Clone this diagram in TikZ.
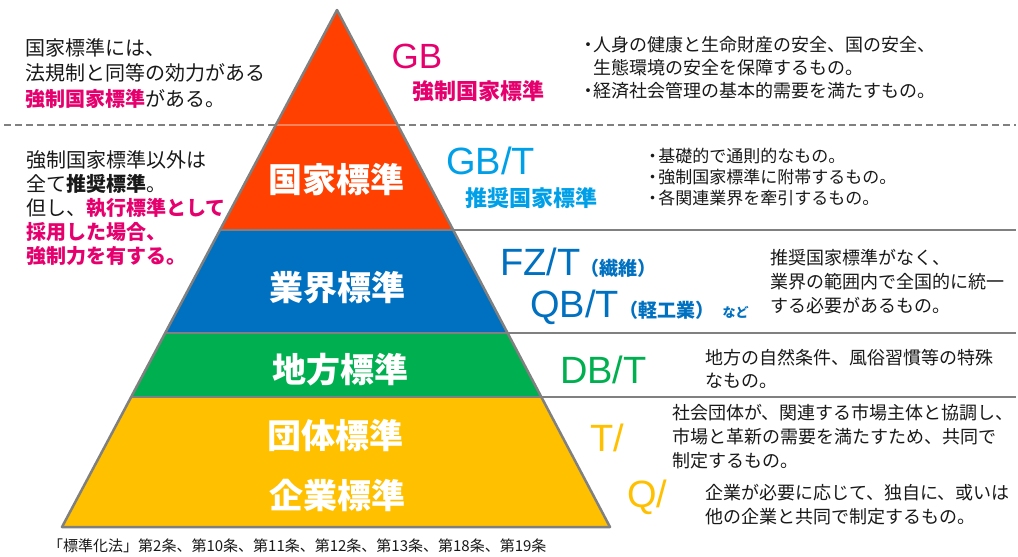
\documentclass[tikz,border=0pt]{standalone}
\usepackage{fontspec}
\setmainfont{Noto Sans CJK JP}
\newfontfamily\latinfont{Liberation Sans}
\usetikzlibrary{positioning}
\definecolor{pyred}{RGB}{255,64,0}
\definecolor{pyblue}{RGB}{0,112,192}
\definecolor{pygreen}{RGB}{0,176,80}
\definecolor{pyyellow}{RGB}{255,192,0}
\definecolor{gbpink}{RGB}{230,0,110}
\definecolor{gbtblue}{RGB}{0,160,233}
\definecolor{edgegray}{RGB}{128,128,128}
\definecolor{ink}{RGB}{25,25,25}
\newcommand\dotmark{\makebox[0.65em][c]{・}}

\tikzset{
  rule/.style={draw=edgegray, line width=2.5pt},
  level/.style={text=white, inner sep=0pt, font=\fontsize{34}{34}\selectfont\bfseries},
  code/.style={inner sep=0pt, anchor=west, font=\fontsize{38}{38}\selectfont\latinfont},
  codesub/.style={inner sep=0pt, anchor=base west, font=\fontsize{19}{19}\selectfont\bfseries},
  kind/.style={inner sep=0pt, font=\fontsize{22}{22}\selectfont\bfseries},
  note/.style={inner sep=0pt, anchor=north west, align=left, text=ink}
}

\begin{document}
\begin{tikzpicture}[x=1pt, y=-1pt]
\useasboundingbox[fill=white] (0,0) rectangle (1018,557);

% pyramid bands
\fill[pyred] (337,10) -- (453,230) -- (220,230) -- cycle;
\fill[pyblue] (220,230) -- (453,230) -- (508,333) -- (165,333) -- cycle;
\fill[pygreen] (165,333) -- (508,333) -- (541,397) -- (131,397) -- cycle;
\fill[pyyellow] (131,397) -- (541,397) -- (610,527) -- (62,527) -- cycle;

% dashed split of the national level
\draw[edgegray, dashed, dash pattern=on 7pt off 4pt, line width=1.5pt] (4,125) -- (276,125);
\draw[edgegray, dashed, dash pattern=on 7pt off 4pt, line width=1.5pt] (398,125) -- (1016,125);
\draw[white, opacity=0.35, line width=1.2pt] (276,125) -- (398,125);

% band rules
\draw[rule] (220,230) -- (1016,230);
\draw[rule] (165,333) -- (1016,333);
\draw[rule] (131,397) -- (1016,397);
\draw[rule, line join=round] (337,10) -- (610,527) -- (62,527) -- cycle;

% levels
\node[level] (national) at (336,180) {国家標準};
\node[level] (industry) at (337,288) {業界標準};
\node[level] (local) at (340,370) {地方標準};
\node[level] (group) at (335,436) {団体標準};
\node[level] (enterprise) at (337,495) {企業標準};

% codes
\node[inner sep=0pt, text=gbpink, font=\fontsize{35}{35}\selectfont\latinfont] (gb) at (417,56) {GB};
\node[kind, text=gbpink] (gbkind) at (478,91) {強制国家標準};
\node[code, text=gbtblue] (gbt) at (446,161) {GB/T};
\node[kind, text=gbtblue] (gbtkind) at (531,198) {推奨国家標準};
\node[code, text=pyblue] (fz) at (500,262) {FZ/T};
\node[codesub, text=pyblue] (fzsub) at (fz.base east) {（繊維）};
\node[code, text=pyblue] (qb) at (530,307) {QB/T};
\node[codesub, text=pyblue] (qbsub) at (qb.base east) {（軽工業）};
\node[codesub, text=pyblue, font=\fontsize{13}{13}\selectfont\bfseries, right=8pt of qbsub.base east, anchor=base west] (qbetc) {など};
\node[code, text=pygreen] (db) at (560,370) {DB/T};
\node[code, text=pyyellow] (tt) at (590,438) {T/};
\node[code, text=pyyellow] (qq) at (627,497) {Q/};

% left notes
\node[note, font=\fontsize{20}{25.5}\selectfont] (gbnote) at (25,38)
  {国家標準には、\\法規制と同等の効力がある\\\textcolor{gbpink}{\bfseries 強制国家標準}がある。};
\node[note, font=\fontsize{20}{24}\selectfont] (gbtnote) at (26,150)
  {強制国家標準以外は\\全て\textbf{推奨標準}。\\但し、\textcolor{gbpink}{\bfseries 執行標準として}\\
   \textcolor{gbpink}{\bfseries 採用した場合、}\\\textcolor{gbpink}{\bfseries 強制力を有する。}};

% right notes
\node[note, font=\fontsize{18}{23}\selectfont] (gbdesc) at (582,36)
  {\dotmark 人身の健康と生命財産の安全、国の安全、\\\hspace*{0.65em}生態環境の安全を保障するもの。\\\dotmark 経済社会管理の基本的需要を満たすもの。};
\node[note, font=\fontsize{17}{21}\selectfont] (gbtdesc) at (647,148)
  {\dotmark 基礎的で通則的なもの。\\\dotmark 強制国家標準に附帯するもの。\\\dotmark 各関連業界を牽引するもの。};
\node[note, font=\fontsize{18}{24}\selectfont] (industrydesc) at (770,249)
  {推奨国家標準がなく、\\業界の範囲内で全国的に統一\\する必要があるもの。};
\node[note, font=\fontsize{18}{23}\selectfont] (localdesc) at (705,349)
  {地方の自然条件、風俗習慣等の特殊\\なもの。};
\node[note, font=\fontsize{18}{24}\selectfont] (groupdesc) at (672,404)
  {社会団体が、関連する市場主体と協調し、\\市場と革新の需要を満たすため、共同で\\制定するもの。};
\node[note, font=\fontsize{18}{24}\selectfont] (enterprisedesc) at (705,484)
  {企業が必要に応じて、独自に、或いは\\他の企業と共同で制定するもの。};

% source
\node[inner sep=0pt, anchor=west, text=ink, font=\fontsize{15}{15}\selectfont] (source) at (48,546)
  {「標準化法」第2条、第10条、第11条、第12条、第13条、第18条、第19条};
\end{tikzpicture}
\end{document}
